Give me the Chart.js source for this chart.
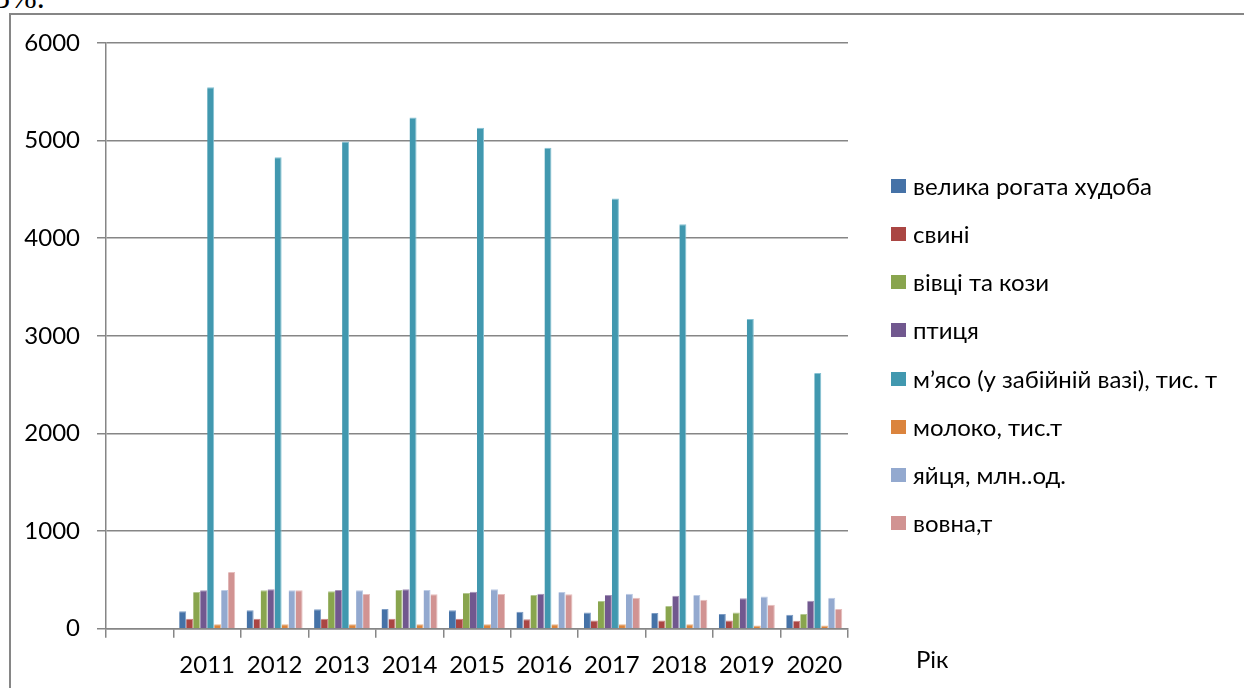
<!DOCTYPE html>
<html lang="uk">
<head>
<meta charset="utf-8">
<title>Виробництво продукції тваринництва</title>
<script src="https://cdn.jsdelivr.net/npm/chart.js@4.4.1/dist/chart.umd.min.js"></script>
<style>
  html, body { margin: 0; padding: 0; background: #fff; overflow: hidden; }
  #page { position: relative; width: 1244px; height: 688px; }
  #frame { position: absolute; left: 9px; top: 13px; width: 1300px; height: 760px;
           border-left: 2px solid #868686; border-top: 2px solid #868686; }
  #note { position: absolute; left: -6px; top: -19px; font: 32px "Liberation Serif", "DejaVu Serif", serif;
          line-height: 32px; color: #000; white-space: nowrap; }
  #wrap { position: absolute; left: 0; top: 0; width: 1244px; height: 688px; }
  #legend { position: absolute; left: 891px; top: 0; margin: 0; padding: 0; list-style: none;
            font: 24px Lato, "Open Sans", "Noto Sans", sans-serif; color: #000; }
  #legend li { position: absolute; left: 0; white-space: nowrap; height: 30px; line-height: 30px; }
  #legend .sw { position: absolute; left: 0; top: 8px; width: 15px; height: 14px; }
  #legend .tx { position: absolute; left: 22px; top: 0; }
  #axisName { position: absolute; left: 916px; top: 644px; font: 24px Lato, "Open Sans", sans-serif; color: #000; }
</style>
</head>
<body>
<div id="page">
  <div id="note">5%.</div>
  <div id="frame"></div>
  <div id="wrap"><canvas id="chart"></canvas></div>
  <ul id="legend"></ul>
  <div id="axisName">Рік</div>
</div>
<script>
// Роки спостереження
const years = ['2011', '2012', '2013', '2014', '2015', '2016', '2017', '2018', '2019', '2020'];

// Поголів'я та виробництво продукції
const cattle  = [180, 188, 198, 202, 188, 174, 167, 160, 150, 143];   // велика рогата худоба
const pigs    = [103, 103, 103, 103, 103, 96, 85, 85, 85, 82];        // свині
const sheep   = [376, 393, 383, 397, 366, 345, 284, 232, 167, 150];   // вівці та кози
const poultry = [393, 403, 397, 403, 379, 359, 345, 338, 311, 287];   // птиця
const meat    = [5547, 4830, 4990, 5236, 5133, 4928, 4406, 4143, 3173, 2620]; // м'ясо
const milk    = [45, 45, 45, 45, 45, 45, 45, 45, 34, 34];             // молоко
const eggs    = [397, 393, 393, 397, 403, 376, 359, 345, 331, 318];   // яйця
const wool    = [581, 393, 355, 352, 355, 352, 318, 297, 246, 202];   // вовна

const seriesNames = [
  'велика рогата худоба', 'свині', 'вівці та кози', 'птиця',
  'м’ясо (у забійній вазі), тис. т', 'молоко, тис.т', 'яйця, млн..од.', 'вовна,т'
];

// Значення осі Y
const yTicks = [0, 1000, 2000, 3000, 4000, 5000, 6000];

const colors = ['#4572A7', '#AA4643', '#89A54E', '#71588F', '#4198AF', '#DB843D', '#93A9CF', '#D19392'];
const edges  = ['#7d9cc4', '#c98482', '#b2c78f', '#a493b8', '#86c2d3', '#eab68c', '#bccbe5', '#e6bebd'];

// Перша категорія на осі порожня
const labels = [''].concat(years);
const allSeries = [cattle, pigs, sheep, poultry, meat, milk, eggs, wool];

const gray = '#868686';
const font = { family: 'Lato, "Open Sans", sans-serif', size: 24 };

const datasets = allSeries.map((vals, i) => ({
  label: seriesNames[i],
  data: [null].concat(vals),
  backgroundColor: colors[i],
  borderColor: edges[i],
  borderWidth: { top: 1, right: 1, left: 0, bottom: 0 },
  borderSkipped: 'bottom',
  categoryPercentage: 0.83,
  barPercentage: 1.0
}));

new Chart(document.getElementById('chart'), {
  type: 'bar',
  data: { labels, datasets },
  options: {
    responsive: true,
    maintainAspectRatio: false,
    animation: false,
    layout: { padding: { left: 0, right: 396, top: 43, bottom: 0 } },
    plugins: { legend: { display: false }, tooltip: { enabled: false } },
    scales: {
      x: {
        grid: { display: true, drawOnChartArea: false, drawTicks: true, tickLength: 9, color: gray, lineWidth: 1.5, offset: true },
        border: { display: true, color: gray, width: 1.5 },
        ticks: { color: '#000', font, padding: 13, maxRotation: 0, autoSkip: false },
        afterFit: (s) => { s.height = 59.3; }
      },
      y: {
        min: yTicks[0],
        max: yTicks[yTicks.length - 1],
        afterBuildTicks: (s) => { s.ticks = yTicks.map(v => ({ value: v })); },
        grid: { display: true, drawOnChartArea: true, drawTicks: true, tickLength: 9, color: gray, lineWidth: 1.5 },
        border: { display: true, color: gray, width: 1.5 },
        ticks: { color: '#000', font, padding: 17, callback: (v) => String(v) },
        afterFit: (s) => { s.width = 106; }
      }
    }
  }
});

// Легенда праворуч від діаграми
const legend = document.getElementById('legend');
seriesNames.forEach((name, i) => {
  const li = document.createElement('li');
  li.style.top = (185.7 + 48.2 * i - 15) + 'px';
  const sw = document.createElement('span');
  sw.className = 'sw';
  sw.style.background = colors[i];
  const tx = document.createElement('span');
  tx.className = 'tx';
  tx.textContent = name;
  li.appendChild(sw);
  li.appendChild(tx);
  legend.appendChild(li);
});
</script>
</body>
</html>
